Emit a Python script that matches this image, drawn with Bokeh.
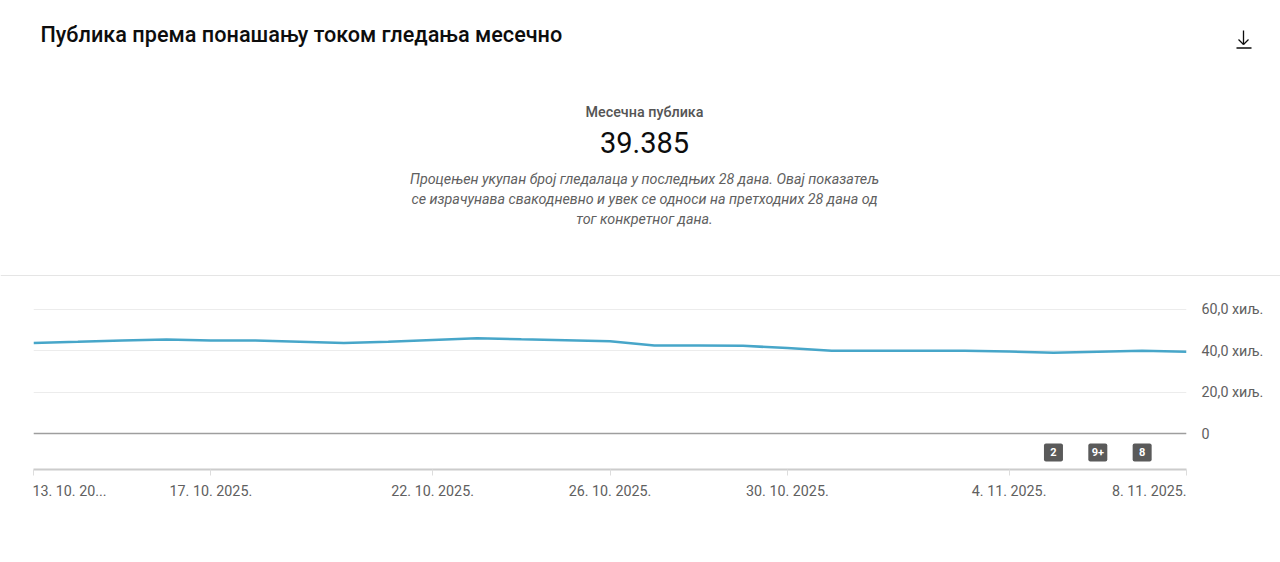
from bokeh.plotting import figure
from bokeh.models import Range1d, FixedTicker, Span
from bokeh.layouts import column, row
from bokeh.embed import file_html
from bokeh.resources import INLINE
from bokeh.core.properties import value

# ---------------- data ----------------
TITLE = "Публика према понашању током гледања месечно"
KPI_LABEL = "Месечна публика"
KPI_VALUE = "39.385"
NOTE_LINES = [
    "Процењен укупан број гледалаца у последњих 28 дана. Овај показатељ",
    "се израчунава свакодневно и увек се односи на претходних 28 дана од",
    "тог конкретног дана.",
]

# day index 0 = 13. 10. 2025. ... 26 = 8. 11. 2025.
days = list(range(27))
audience = [43700, 44200, 44800, 45300, 44800, 44800, 44300, 43700, 44300,
            45100, 45900, 45400, 45000, 44500, 42400, 42400, 42300, 41200,
            39900, 39900, 39900, 39900, 39500, 38900, 39400, 39900, 39385]

x_tick_days = [0, 4, 9, 13, 17, 22, 26]
x_tick_labels = ["13. 10. 20...", "17. 10. 2025.", "22. 10. 2025.",
                 "26. 10. 2025.", "30. 10. 2025.", "4. 11. 2025.",
                 "8. 11. 2025."]

y_ticks = [0, 20000, 40000, 60000]
y_tick_labels = ["0", "20,0 хиљ.", "40,0 хиљ.", "60,0 хиљ."]

badge_days = [23, 24, 25]
badge_texts = ["2", "9+", "8"]

# ---------------- styles / layout ----------------
FONT = value("Roboto")
MED_FONT = value("'Roboto Medium', Roboto")
GREY_TXT = "#606060"
DARK_TXT = "#0d0d0d"
LINE_COLOR = "#47a6c9"
SMALL = "14.3px"
W, H = 1280, 562
HDR_H = 276
# padding that moves the first / last date label onto the frame edge
LEAD_PAD = "\u00a0" * 9
TRAIL_PAD = "\u00a0" * 21

# ---------------- header (page pixel coordinates) ----------------
hdr = figure(width=W, height=HDR_H, x_range=Range1d(0, W), y_range=Range1d(HDR_H, 0),
             toolbar_location=None, output_backend="svg", min_border=0)
hdr.axis.visible = False
hdr.grid.visible = False
hdr.outline_line_color = None

hdr.text(x=[40], y=[34], text=[TITLE], text_font=MED_FONT, text_font_size="21.6px",
         text_color=DARK_TXT, text_baseline="middle", text_align="left")
hdr.text(x=[644], y=[111], text=[KPI_LABEL], text_font=MED_FONT, text_font_size=SMALL,
         text_color="#555555", text_baseline="middle", text_align="center")
hdr.text(x=[644], y=[142], text=[KPI_VALUE], text_font=FONT, text_font_size="29px",
         text_color=DARK_TXT, text_baseline="middle", text_align="center")
hdr.text(x=[644, 644, 644], y=[178, 198, 218], text=NOTE_LINES, text_font=FONT,
         text_font_size=SMALL, text_font_style="italic", text_color=GREY_TXT,
         text_baseline="middle", text_align="center")

# download icon
hdr.segment(x0=[1243, 1238, 1248, 1236], y0=[30, 39, 39, 47.5],
            x1=[1243, 1243, 1243, 1251], y1=[44, 44, 44, 47.5],
            line_color=DARK_TXT, line_width=1.3)
# separator
hdr.segment(x0=[0], y0=[275], x1=[W], y1=[275], line_color="#e5e5e5", line_width=1)

# ---------------- chart ----------------
FL, FR, FT, FB = 33, 1186, 292, 469      # frame edges in page pixels
p = figure(width=W, height=H - HDR_H, x_range=Range1d(0, 26),
           y_range=Range1d(-17350, 68000),
           toolbar_location=None, output_backend="svg", y_axis_location="right",
           min_border_left=FL, min_border_right=W - FR, min_border_top=FT - HDR_H,
           min_border_bottom=H - FB)
p.outline_line_color = None
p.background_fill_color = "white"
p.border_fill_color = "white"

p.xgrid.visible = False
p.ygrid.ticker = FixedTicker(ticks=y_ticks)
p.ygrid.grid_line_color = "#ececec"
p.ygrid.grid_line_width = 1

p.yaxis.ticker = FixedTicker(ticks=y_ticks)
p.yaxis.major_label_overrides = {t: l for t, l in zip(y_ticks, y_tick_labels)}
p.yaxis.axis_line_color = None
p.yaxis.major_tick_line_color = None
p.yaxis.minor_tick_line_color = None
p.yaxis.major_tick_out = 0
p.yaxis.major_label_standoff = 15
p.yaxis.major_label_text_font = "Roboto"
p.yaxis.major_label_text_font_size = SMALL
p.yaxis.major_label_text_color = GREY_TXT

x_overrides = {t: l for t, l in zip(x_tick_days, x_tick_labels)}
x_overrides[x_tick_days[0]] = LEAD_PAD + x_tick_labels[0]
x_overrides[x_tick_days[-1]] = x_tick_labels[-1] + TRAIL_PAD
p.xaxis.ticker = FixedTicker(ticks=x_tick_days)
p.xaxis.major_label_overrides = x_overrides
p.xaxis.axis_line_color = "#cccccc"
p.xaxis.axis_line_width = 2
p.xaxis.major_tick_line_color = "#dddddd"
p.xaxis.major_tick_out = 6
p.xaxis.major_tick_in = 0
p.xaxis.minor_tick_line_color = None
p.xaxis.major_label_standoff = 7
p.xaxis.major_label_text_font = "Roboto"
p.xaxis.major_label_text_font_size = SMALL
p.xaxis.major_label_text_color = GREY_TXT

p.add_layout(Span(location=0, dimension="width", line_color="#9e9e9e", line_width=1.3))

p.line(x=days, y=audience, line_color=LINE_COLOR, line_width=2.5)

# badges
badge_y = [-9150] * len(badge_days)
p.rect(x=badge_days, y=badge_y, width=19, height=18, width_units="screen",
       height_units="screen", fill_color="#5a5a5a", line_color=None, border_radius=2)
p.text(x=badge_days, y=badge_y, text=badge_texts, text_font=FONT,
       text_font_size="11px", text_font_style="bold", text_color="white",
       text_align="center", text_baseline="middle")

layout = column(row(hdr), p, spacing=0)
open("out.html", "w").write(file_html(layout, INLINE))
